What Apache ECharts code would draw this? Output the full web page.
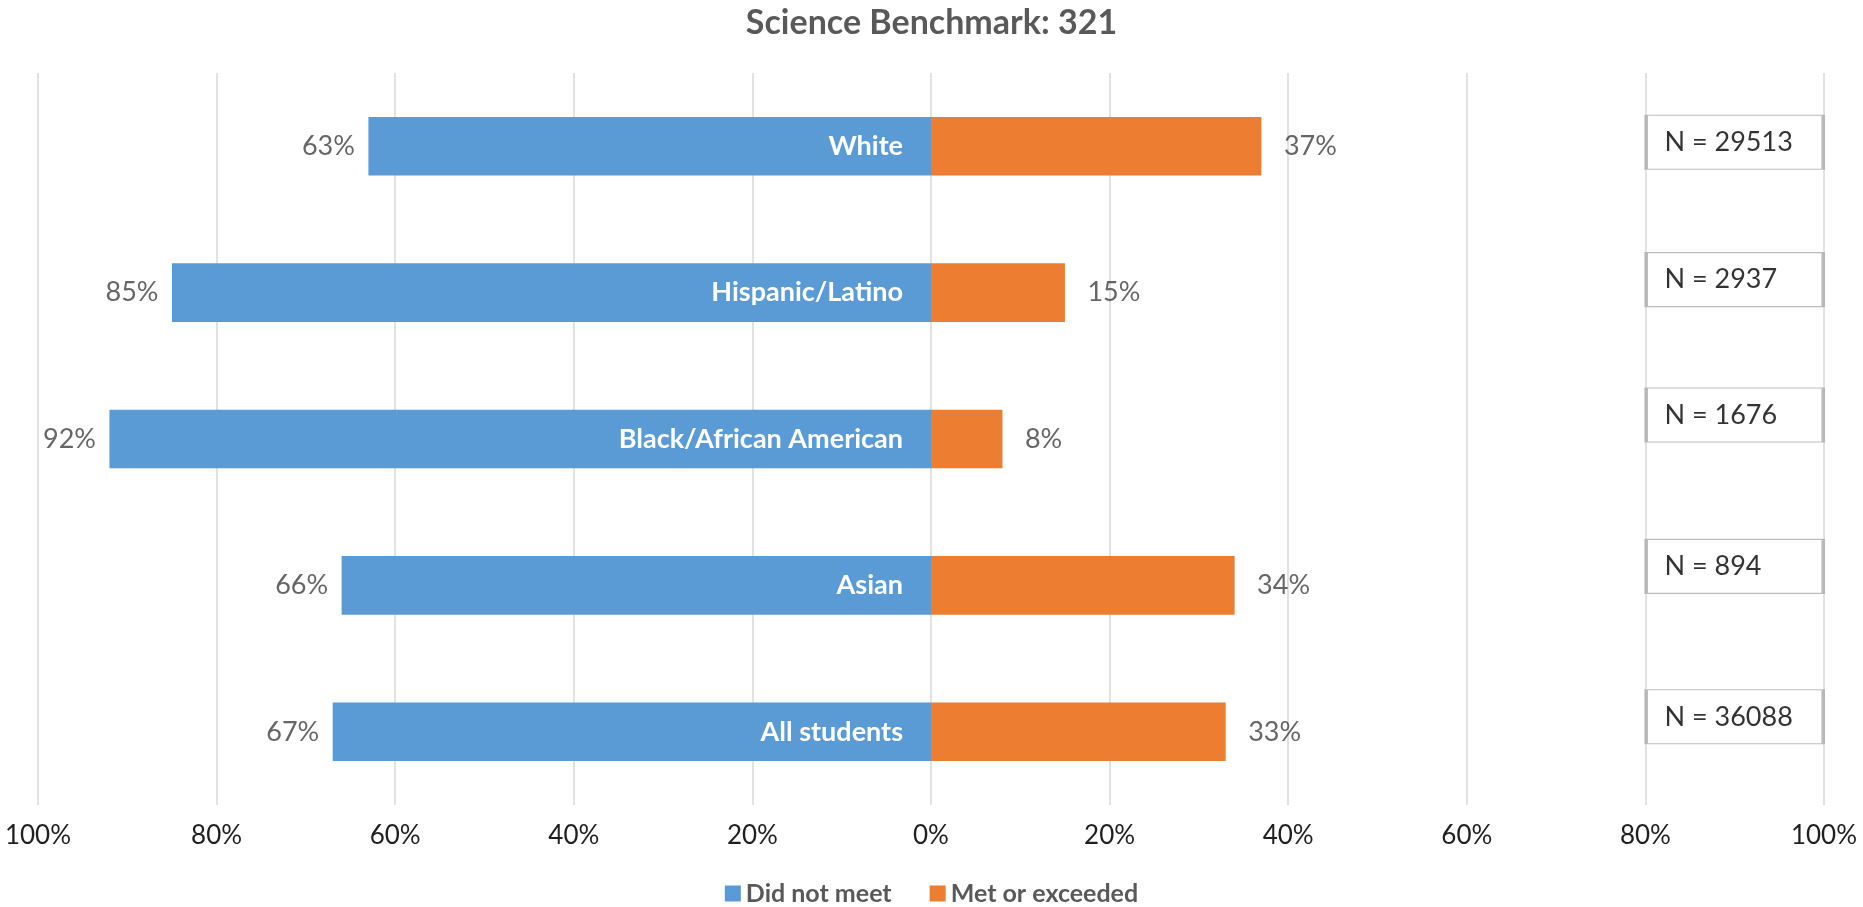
<!DOCTYPE html>
<html>
<head>
<meta charset="utf-8">
<script src="https://cdn.jsdelivr.net/npm/echarts@6/dist/echarts.min.js"></script>
<style>html,body{margin:0;padding:0;background:#fff;}#c{width:1863px;height:907px;}</style>
</head>
<body>
<div id="c"></div>
<script>
const categories = ['White', 'Hispanic/Latino', 'Black/African American', 'Asian', 'All students'];
const didNotMeet = [63, 85, 92, 66, 67];
const metOrExceeded = [37, 15, 8, 34, 33];
const nCounts = [29513, 2937, 1676, 894, 36088];
const xTicks = [-100, -80, -60, -40, -20, 0, 20, 40, 60, 80, 100];

const FONT = 'Lato';
const boxOffsets = [-4, -13, -24, -19, -15];
const nBoxX = 90;

const chart = echarts.init(document.getElementById('c'));
chart.setOption({
  animation: false,
  textStyle: { fontFamily: FONT },
  title: {
    text: 'Science Benchmark: 321',
    left: 'center',
    top: 1,
    textStyle: { fontFamily: FONT, fontSize: 34, fontWeight: 'bold', color: '#595959' }
  },
  legend: {
    data: ['Did not meet', 'Met or exceeded'],
    left: 'center',
    top: 876,
    itemWidth: 16,
    itemHeight: 16,
    itemGap: 38,
    icon: 'rect',
    textStyle: { fontFamily: FONT, fontSize: 25, fontWeight: 'bold', color: '#595959' }
  },
  grid: { left: 38, right: 39, top: 73, bottom: 102, containLabel: false },
  xAxis: {
    type: 'value',
    min: xTicks[0],
    max: xTicks[xTicks.length - 1],
    interval: 20,
    axisLine: { show: false },
    axisTick: { show: false },
    splitLine: { show: true, lineStyle: { color: '#D9D9D9', width: 1.5 } },
    axisLabel: {
      margin: 18,
      fontSize: 26,
      color: '#1f1f1f',
      fontFamily: FONT,
      formatter: v => Math.abs(v) + '%'
    }
  },
  yAxis: {
    type: 'category',
    inverse: true,
    data: categories,
    axisLine: { show: false },
    axisTick: { show: false },
    axisLabel: { show: false },
    splitLine: { show: false }
  },
  series: [
    {
      name: 'Did not meet',
      type: 'bar',
      stack: 'total',
      barWidth: '40%',
      itemStyle: { color: '#5B9BD5' },
      label: {
        show: true,
        position: 'insideRight',
        distance: 28,
        formatter: p => p.name,
        color: '#ffffff',
        fontFamily: FONT,
        fontWeight: 'bold',
        fontSize: 27
      },
      data: didNotMeet.map(v => -v)
    },
    {
      name: 'Met or exceeded',
      type: 'bar',
      stack: 'total',
      barWidth: '40%',
      itemStyle: { color: '#ED7D31' },
      data: metOrExceeded
    },
    {
      name: 'dnmLabels',
      type: 'scatter',
      symbolSize: 1,
      itemStyle: { color: 'rgba(0,0,0,0)' },
      silent: true,
      label: {
        show: true,
        position: 'left',
        distance: 13,
        formatter: p => Math.abs(p.value[0]) + '%',
        color: '#404040',
        fontFamily: FONT,
        fontSize: 27
      },
      data: didNotMeet.map((v, i) => [-v, i])
    },
    {
      name: 'meLabels',
      type: 'scatter',
      symbolSize: 1,
      itemStyle: { color: 'rgba(0,0,0,0)' },
      silent: true,
      label: {
        show: true,
        position: 'right',
        distance: 22,
        formatter: p => p.value[0] + '%',
        color: '#404040',
        fontFamily: FONT,
        fontSize: 27
      },
      data: metOrExceeded.map((v, i) => [v, i])
    },
    {
      name: 'nBoxes',
      type: 'scatter',
      symbol: 'rect',
      symbolSize: [177, 54],
      silent: true,
      z: 5,
      itemStyle: { color: '#ffffff', borderColor: '#ABABAB', borderWidth: 2 },
      label: {
        show: true,
        position: 'insideLeft',
        distance: 20,
        formatter: p => 'N = ' + nCounts[p.dataIndex],
        color: '#000000',
        fontFamily: FONT,
        fontSize: 27
      },
      data: nCounts.map((n, i) => ({ value: [nBoxX, i], symbolOffset: [0, boxOffsets[i]] }))
    }
  ]
});
</script>
</body>
</html>
